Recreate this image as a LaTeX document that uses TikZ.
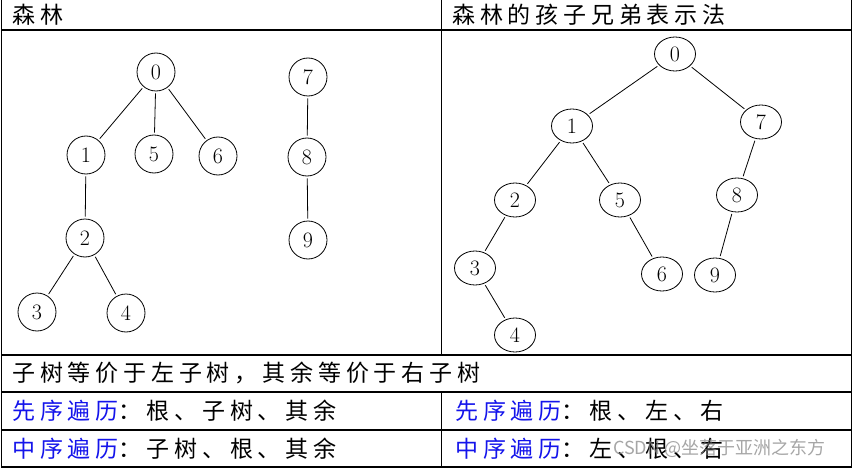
\documentclass[tikz,border=0pt]{standalone}
\usepackage{fontspec}
\usetikzlibrary{shapes.geometric}
\newfontfamily\cjk{Noto Sans CJK SC}[LetterSpace=21]
\newfontfamily\wmfont{Noto Sans CJK SC}
\definecolor{travblue}{RGB}{20,20,235}
\tikzset{
  vtx/.style={draw, circle, line width=0.8pt, minimum size=38pt, inner sep=0pt, font=\fontsize{22}{22}\selectfont},
  bvtx/.style={draw, ellipse, line width=0.8pt, minimum width=41pt, minimum height=34pt, inner sep=0pt, font=\fontsize{22}{22}\selectfont},
  edge/.style={line width=0.8pt, shorten >=2pt, shorten <=2pt},
  grid/.style={line width=1.5pt},
  cell/.style={anchor=west, inner sep=0pt, font=\cjk\fontsize{23}{23}\selectfont}
}

\begin{document}
\begin{tikzpicture}[x=1pt,y=-1pt]
\useasboundingbox (0,0) rectangle (859,468);
\draw[grid] (1.5,0) -- (1.5,467) -- (851.5,467) -- (851.5,0);
\draw[grid] (441.5,0) -- (441.5,355);
\draw[grid] (441.5,392) -- (441.5,467);
\foreach \y in {30,355,392,430}
  \draw[grid] (1.5,\y) -- (851.5,\y);

\node[cell] (forest) at (12,15) {森林};
\node[cell] (cstitle) at (452,15) {森林的孩子兄弟表示法};
\node[cell] (rule) at (12,373) {子树等价于左子树，其余等价于右子树};
\node[cell] (preL) at (12,411) {\textcolor{travblue}{先序遍历}：根、子树、其余};
\node[cell] (inL) at (12,449) {\textcolor{travblue}{中序遍历}：子树、根、其余};
\node[cell] (preR) at (455,411) {\textcolor{travblue}{先序遍历}：根、左、右};
\node[cell] (inR) at (455,449) {\textcolor{travblue}{中序遍历}：左、根、右};

\node[vtx] (a0) at (156,72) {0};
\node[vtx] (a1) at (86,155) {1};
\node[vtx] (a5) at (154,154) {5};
\node[vtx] (a6) at (218,156) {6};
\node[vtx] (a2) at (85,238) {2};
\node[vtx] (a3) at (37,312) {3};
\node[vtx] (a4) at (126,313) {4};
\node[vtx] (a7) at (308,77) {7};
\node[vtx] (a8) at (307,157) {8};
\node[vtx] (a9) at (308,240) {9};
\foreach \u/\v in {a0/a1, a0/a5, a0/a6, a1/a2, a2/a3, a2/a4, a7/a8, a8/a9}
  \draw[edge] (\u) -- (\v);

\node[bvtx] (b0) at (675,54) {0};
\node[bvtx] (b1) at (572,126) {1};
\node[bvtx] (b7) at (761,122) {7};
\node[bvtx] (b2) at (515,200) {2};
\node[bvtx] (b5) at (620,200) {5};
\node[bvtx] (b8) at (737,195) {8};
\node[bvtx] (b3) at (475,268) {3};
\node[bvtx] (b6) at (662,274) {6};
\node[bvtx] (b9) at (715,275) {9};
\node[bvtx] (b4) at (515,335) {4};
\foreach \u/\v in {b0/b1, b0/b7, b1/b2, b1/b5, b2/b3, b3/b4, b5/b6, b7/b8, b8/b9}
  \draw[edge] (\u) -- (\v);

\node[anchor=west, inner sep=0pt, text=gray, opacity=0.7, font=\wmfont\fontsize{18}{18}\selectfont] (mark) at (613,448) {CSDN @坐落于亚洲之东方};
\end{tikzpicture}
\end{document}
